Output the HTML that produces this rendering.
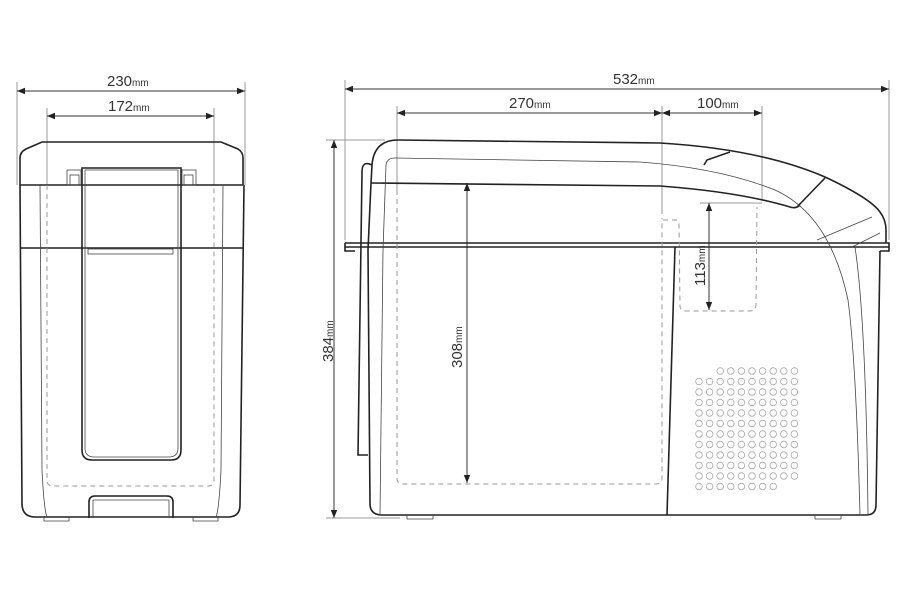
<!DOCTYPE html>
<html><head><meta charset="utf-8"><style>html,body{margin:0;padding:0;background:#fff}svg{display:block}text{font-family:"Liberation Sans",Arial,sans-serif}</style></head>
<body>
<svg width="901" height="591" viewBox="0 0 901 591" xmlns="http://www.w3.org/2000/svg">
<defs>
<marker id="a" viewBox="0 0 10 10" refX="10" refY="5" markerWidth="8" markerHeight="8" orient="auto-start-reverse" markerUnits="userSpaceOnUse"><path d="M0,1 L10,5 L0,9z" fill="#222"/></marker>
<g id="r"><circle cx="699" cy="0" r="3.3"/><circle cx="709.6" cy="0" r="3.3"/><circle cx="720.2" cy="0" r="3.3"/><circle cx="730.8" cy="0" r="3.3"/><circle cx="741.4" cy="0" r="3.3"/><circle cx="752" cy="0" r="3.3"/><circle cx="762.6" cy="0" r="3.3"/><circle cx="773.2" cy="0" r="3.3"/><circle cx="783.8" cy="0" r="3.3"/><circle cx="794.4" cy="0" r="3.3"/></g>
</defs>
<g stroke="#999" stroke-width="1" fill="none">
<line x1="17" y1="82" x2="17" y2="185"/><line x1="245" y1="82" x2="245" y2="185"/>
<line x1="47" y1="108" x2="47" y2="185"/><line x1="214" y1="108" x2="214" y2="185"/>
<line x1="345" y1="80" x2="345" y2="240"/><line x1="889" y1="80" x2="889" y2="240"/>
<line x1="397" y1="106" x2="397" y2="190"/><line x1="662" y1="106" x2="662" y2="214"/><line x1="762" y1="106" x2="762" y2="200"/>
<line x1="326" y1="140" x2="385" y2="140"/><line x1="326" y1="518" x2="400" y2="518"/>
<line x1="700" y1="203" x2="762" y2="203"/>
</g>
<g stroke="#333" stroke-width="1" fill="none" marker-start="url(#a)" marker-end="url(#a)">
<line x1="17" y1="91" x2="245" y2="91"/>
<line x1="47" y1="116" x2="214" y2="116"/>
<line x1="345" y1="89" x2="889" y2="89"/>
<line x1="397" y1="113" x2="662" y2="113"/>
<line x1="662" y1="113" x2="762" y2="113"/>
<line x1="334" y1="140" x2="334" y2="518"/>
<line x1="467" y1="183" x2="467" y2="483"/>
<line x1="709" y1="203" x2="709" y2="310"/>
</g>
<g fill="#333" font-size="15">
<text x="107" y="86">230<tspan font-size="10">mm</tspan></text>
<text x="108" y="111">172<tspan font-size="10">mm</tspan></text>
<text x="613" y="84">532<tspan font-size="10">mm</tspan></text>
<text x="509" y="108">270<tspan font-size="10">mm</tspan></text>
<text x="697" y="108">100<tspan font-size="10">mm</tspan></text>
<text transform="translate(333,362) rotate(-90)">384<tspan font-size="10">mm</tspan></text>
<text transform="translate(462,368) rotate(-90)">308<tspan font-size="10">mm</tspan></text>
<text transform="translate(705,286) rotate(-90)">113<tspan font-size="10">mm</tspan></text>
</g>

<!-- LEFT VIEW -->
<g stroke="#222" stroke-width="1.6" fill="none">
<path d="M20,185 L20,158 Q20,152 26,149 L42,142 L221,142 L238,149 Q243,152 243,158 L243,185"/>
<line x1="20" y1="185" x2="243" y2="185"/>
<line x1="20" y1="248" x2="244" y2="248"/>
<path d="M20,185 L22,505 Q23,517 35,517 L228,517 Q240,517 240,505 L244,185"/>
<path d="M82,168 L181,168 L181,450 Q181,460 171,460 L92,460 Q82,460 82,450 Z"/>
<path d="M89,518 L89,502 Q89,496 95,496 L167,496 Q173,496 173,502 L173,518"/>
</g>
<g stroke="#444" stroke-width="0.8" fill="none">
<path d="M85,170 L178,170 L178,448 Q178,457 169,457 L94,457 Q85,457 85,448 Z"/>
<rect x="67" y="170" width="14" height="15"/><rect x="70" y="175" width="9" height="10"/>
<rect x="182" y="170" width="14" height="15"/><rect x="184" y="175" width="9" height="10"/>
<rect x="88" y="249" width="85" height="5"/>
<path d="M93,517 L93,500 L169,500 L169,517"/>
<path d="M40,185 L42,470 Q44,510 47,517"/>
<path d="M223,185 L221,470 Q219,510 216,517"/>
<path d="M44,517 L44,521 L69,521 L69,517 M193,517 L193,521 L218,521 L218,517"/>
</g>
<path d="M47,185 L47,480 Q47,486 53,486 L208,486 Q214,486 214,480 L214,185" stroke="#999" stroke-width="1" stroke-dasharray="5,4" fill="none"/>

<!-- RIGHT VIEW -->
<g stroke="#222" stroke-width="1.6" fill="none">
<path d="M371,183 L372,165 Q374,140 398,140 L660,143 Q760,149 825,177 Q870,198 880,212 Q886,220 886,230 L886,243"/>
<path d="M371,183 L660,186 Q740,192 790,207 Q796,209 800,205"/>
<path d="M704,165 L707,160 L730,152"/>
<path d="M797,207 L825,178"/>
<path d="M345,243 L889,243 L889,251 L880,251 M345,243 L345,251 L355,251 M345,247 L889,247"/>
<path d="M371,183 L368,250 L370,505 Q371,515 382,515 L866,515 Q876,515 876,505 L880,251"/>
<path d="M372,165 Q362,160 362,172 L358,455 L368,455"/>
<path d="M675,247 L667,515"/>
</g>
<g stroke="#444" stroke-width="0.8" fill="none">
<path d="M380,515 L383,250 L386,165 Q387,158 395,158 L640,162 Q720,168 775,190 Q830,215 848,300 Q856,360 860,515"/>
<path d="M817,240 L872,217 M852,247 L880,233"/>
<path d="M855,247 Q866,320 868,515"/>
<path d="M407,515 L407,519 L433,519 L433,515 M815,515 L815,519 L841,519 L841,515"/>
</g>
<g stroke="#999" stroke-width="1" stroke-dasharray="5,4" fill="none">
<path d="M397,190 L397,478 Q397,484 403,484 L656,484 Q662,484 662,478 L662,218"/>
<path d="M663,220 L677,220 L679,224 L680,306 Q680,311 686,311 L750,311 Q756,311 756,305 L757,207"/>
</g>
<g stroke="#aaa" stroke-width="0.8" fill="none">
<circle cx="720.2" cy="371" r="3.3"/><circle cx="730.8" cy="371" r="3.3"/><circle cx="741.4" cy="371" r="3.3"/><circle cx="752" cy="371" r="3.3"/><circle cx="762.6" cy="371" r="3.3"/><circle cx="773.2" cy="371" r="3.3"/><circle cx="783.8" cy="371" r="3.3"/><circle cx="794.4" cy="371" r="3.3"/>
<use href="#r" y="381.5"/><use href="#r" y="392"/><use href="#r" y="402.5"/><use href="#r" y="413"/><use href="#r" y="423.5"/><use href="#r" y="434"/><use href="#r" y="444.5"/><use href="#r" y="455"/><use href="#r" y="465.5"/><use href="#r" y="476"/>
<circle cx="699" cy="486.5" r="3.3"/><circle cx="709.6" cy="486.5" r="3.3"/><circle cx="720.2" cy="486.5" r="3.3"/><circle cx="730.8" cy="486.5" r="3.3"/><circle cx="741.4" cy="486.5" r="3.3"/><circle cx="752" cy="486.5" r="3.3"/><circle cx="762.6" cy="486.5" r="3.3"/><circle cx="773.2" cy="486.5" r="3.3"/>
</g>
</svg>
</body></html>
